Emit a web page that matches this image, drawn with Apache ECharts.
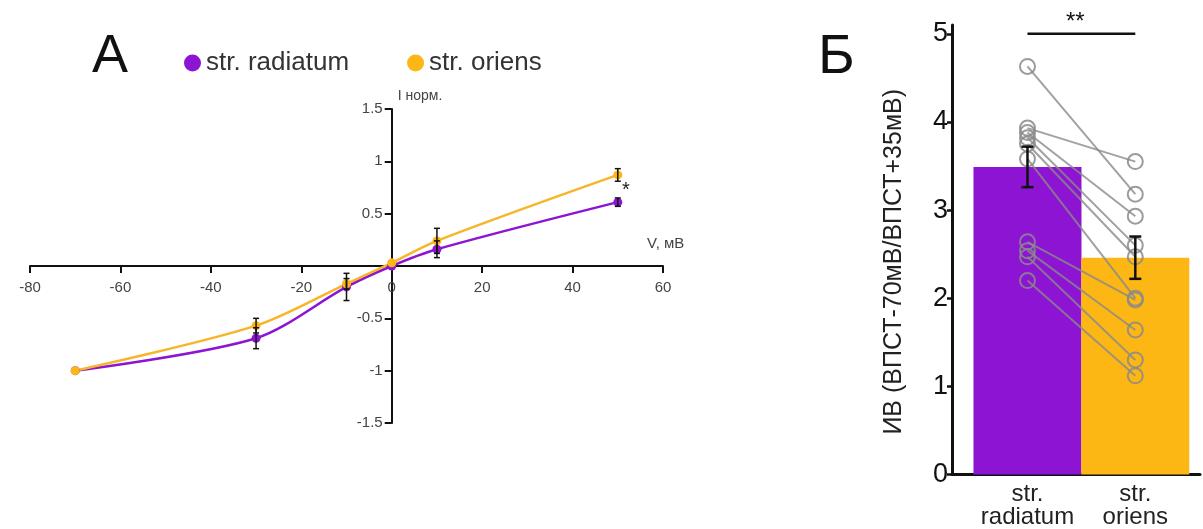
<!DOCTYPE html>
<html>
<head>
<meta charset="utf-8">
<script src="https://cdn.jsdelivr.net/npm/echarts@6/dist/echarts.min.js"></script>
<style>
html, body { margin: 0; padding: 0; background: #fff; }
#chart { width: 1203px; height: 529px; }
</style>
</head>
<body>
<div id="chart"></div>
<script>
// панель А: ВАХ
var voltages = [-70, -30, -10, 0, 10, 50];
var radiatumI = [-1.0, -0.69, -0.2, 0.0, 0.16, 0.61];
var radiatumErr = [0.01, 0.1, 0.13, 0, 0.08, 0.04];
var oriensI = [-1.0, -0.57, -0.17, 0.03, 0.24, 0.87];
var oriensErr = [0.01, 0.07, 0.05, 0, 0.12, 0.06];
var yTicksA = [-1.5, -1, -0.5, 0.5, 1, 1.5];

// панель Б: индекс выпрямления
var groups = ['str.\nradiatum', 'str.\noriens'];
var groupPos = [1, 2];
var barMeans = [3.49, 2.46];
var barErr = [0.23, 0.24];
var pairsRadiatum = [4.63, 3.93, 3.88, 3.82, 3.75, 3.58, 2.64, 2.54, 2.47, 2.2];
var pairsOriens = [3.18, 3.55, 2.93, 2.6, 2.47, 2.0, 1.98, 1.64, 1.3, 1.12];
var yTicksB = [0, 1, 2, 3, 4, 5];

var FONT = 'Liberation Sans, Arial, sans-serif';
var PURPLE = '#8C14D2';
var ORANGE = '#FDB714';

// размеры сетки А (оси пересекаются в нуле, сдвигаем их offset'ом)
var gridA = { left: 30, top: 109, width: 633, height: 314 };
var offX = -gridA.height / 2;                 // ось X на уровне I = 0
var offY = -gridA.width * 80 / 140;           // ось Y на уровне V = 0

// усы ошибок
function errorBar(capHalf, lineW) {
	return function (params, api) {
		var x = api.value(0);
		var p1 = api.coord([x, api.value(2)]);
		var p2 = api.coord([x, api.value(1)]);
		var st = { stroke: '#111', lineWidth: lineW };
		return {
			type: 'group',
			children: [
				{ type: 'line', shape: { x1: p1[0], y1: p1[1], x2: p2[0], y2: p2[1] }, style: st },
				{ type: 'line', shape: { x1: p1[0] - capHalf, y1: p1[1], x2: p1[0] + capHalf, y2: p1[1] }, style: st },
				{ type: 'line', shape: { x1: p2[0] - capHalf, y1: p2[1], x2: p2[0] + capHalf, y2: p2[1] }, style: st }
			]
		};
	};
}

function errData(xs, ys, es) {
	var out = [];
	for (var i = 0; i < xs.length; i++) {
		if (es[i] > 0.02) out.push([xs[i], ys[i] - es[i], ys[i] + es[i]]);
	}
	return out;
}

function pointData(xs, ys) {
	return xs.map(function (x, i) { return [x, ys[i]]; });
}

var series = [
	{
		name: 'str. radiatum', type: 'line', xAxisIndex: 0, yAxisIndex: 0,
		data: pointData(voltages, radiatumI), smooth: 0.3,
		symbol: 'circle', symbolSize: 9, color: PURPLE,
		lineStyle: { width: 2.5, color: PURPLE }, z: 3
	},
	{
		name: 'str. oriens', type: 'line', xAxisIndex: 0, yAxisIndex: 0,
		data: pointData(voltages, oriensI), smooth: 0.3,
		symbol: 'circle', symbolSize: 9, color: ORANGE,
		lineStyle: { width: 2.5, color: '#F7B52A' }, z: 3
	},
	{
		type: 'custom', xAxisIndex: 0, yAxisIndex: 0, z: 5,
		renderItem: errorBar(3, 1.5), data: errData(voltages, radiatumI, radiatumErr)
	},
	{
		type: 'custom', xAxisIndex: 0, yAxisIndex: 0, z: 5,
		renderItem: errorBar(3, 1.5), data: errData(voltages, oriensI, oriensErr)
	},
	{
		type: 'bar', xAxisIndex: 1, yAxisIndex: 1, barWidth: 108, z: 2,
		data: [
			{ value: [groupPos[0], barMeans[0]], itemStyle: { color: PURPLE } },
			{ value: [groupPos[1], barMeans[1]], itemStyle: { color: ORANGE } }
		]
	},
	{
		type: 'custom', xAxisIndex: 1, yAxisIndex: 1, z: 6,
		renderItem: errorBar(6, 2.5), data: errData(groupPos, barMeans, barErr)
	},
	{
		type: 'line', xAxisIndex: 1, yAxisIndex: 1, z: 6,
		data: [[groupPos[0], 5], [groupPos[1], 5]], symbol: 'none',
		lineStyle: { color: '#111', width: 2.5 }, clip: false
	}
];

// парные точки
for (var i = 0; i < pairsRadiatum.length; i++) {
	series.push({
		type: 'line', xAxisIndex: 1, yAxisIndex: 1, z: 4,
		data: [[groupPos[0], pairsRadiatum[i]], [groupPos[1], pairsOriens[i]]],
		symbol: 'circle', symbolSize: 15,
		itemStyle: { color: 'rgba(0,0,0,0)', borderColor: '#8a8a8a', borderWidth: 2, opacity: 0.85 },
		lineStyle: { color: '#8a8a8a', width: 2, opacity: 0.8 }
	});
}

var option = {
	animation: false,
	backgroundColor: '#fff',
	textStyle: { fontFamily: FONT },
	legend: {
		left: 179, top: 45, icon: 'circle', itemWidth: 17, itemHeight: 17, itemGap: 58,
		data: ['str. radiatum', 'str. oriens'],
		textStyle: { fontSize: 26, color: '#333', fontFamily: FONT }
	},
	grid: [
		gridA,
		{ left: 952, top: 25, width: 248, height: 453 }
	],
	xAxis: [
		{
			type: 'value', gridIndex: 0, min: -80, max: 60, interval: 20,
			position: 'bottom', offset: offX,
			splitLine: { show: false },
			axisLine: { onZero: false, lineStyle: { color: '#111', width: 2 } },
			axisTick: { length: 7, lineStyle: { color: '#111', width: 2 } },
			axisLabel: { fontSize: 15, color: '#444', margin: 14 }
		},
		{
			type: 'value', gridIndex: 1, min: 0.3, max: 2.6,
			splitLine: { show: false },
			axisLine: { onZero: false, lineStyle: { color: '#111', width: 3 } },
			axisTick: { show: false },
			axisLabel: {
				customValues: groupPos, fontSize: 24, color: '#222', margin: 8, lineHeight: 23,
				formatter: function (v) { return groups[groupPos.indexOf(v)]; }
			}
		}
	],
	yAxis: [
		{
			type: 'value', gridIndex: 0, min: -1.5, max: 1.5, interval: 0.5,
			position: 'left', offset: offY,
			splitLine: { show: false },
			name: 'I норм.', nameLocation: 'end', nameGap: 6,
			nameTextStyle: { fontSize: 14, color: '#444', align: 'left', padding: [0, 0, 0, 6] },
			axisLine: { onZero: false, lineStyle: { color: '#111', width: 2 } },
			axisTick: { customValues: yTicksA, length: 7, lineStyle: { color: '#111', width: 2 } },
			axisLabel: { customValues: yTicksA, fontSize: 15, color: '#444', margin: 9 }
		},
		{
			type: 'value', gridIndex: 1, min: 0, max: 5.1,
			splitLine: { show: false },
			name: 'ИВ (ВПСТ-70мВ/ВПСТ+35мВ)', nameLocation: 'middle', nameGap: 45,
			nameTextStyle: { fontSize: 25, color: '#222', padding: [0, 24, 0, 0] },
			axisLine: { onZero: false, lineStyle: { color: '#111', width: 3 } },
			axisTick: { customValues: yTicksB, length: 5, lineStyle: { color: '#111', width: 2.5 } },
			axisLabel: { customValues: yTicksB, fontSize: 27, color: '#111', margin: 4 }
		}
	],
	graphic: [
		{ type: 'text', left: 92, top: 30, style: { text: 'А', fontSize: 54, fill: '#111', fontFamily: FONT } },
		{ type: 'text', left: 818, top: 30, style: { text: 'Б', fontSize: 56, fill: '#111', fontFamily: FONT } },
		{ type: 'text', left: 622, top: 180, style: { text: '*', fontSize: 20, fill: '#222', fontFamily: FONT } },
		{ type: 'text', left: 1066, top: 10, style: { text: '**', fontSize: 24, fill: '#111', fontFamily: FONT } },
		{ type: 'text', left: 647, top: 236, style: { text: 'V, мВ', fontSize: 15, fill: '#444', fontFamily: FONT } }
	],
	series: series
};

var myChart = echarts.init(document.getElementById('chart'));
myChart.setOption(option);
</script>
</body>
</html>
